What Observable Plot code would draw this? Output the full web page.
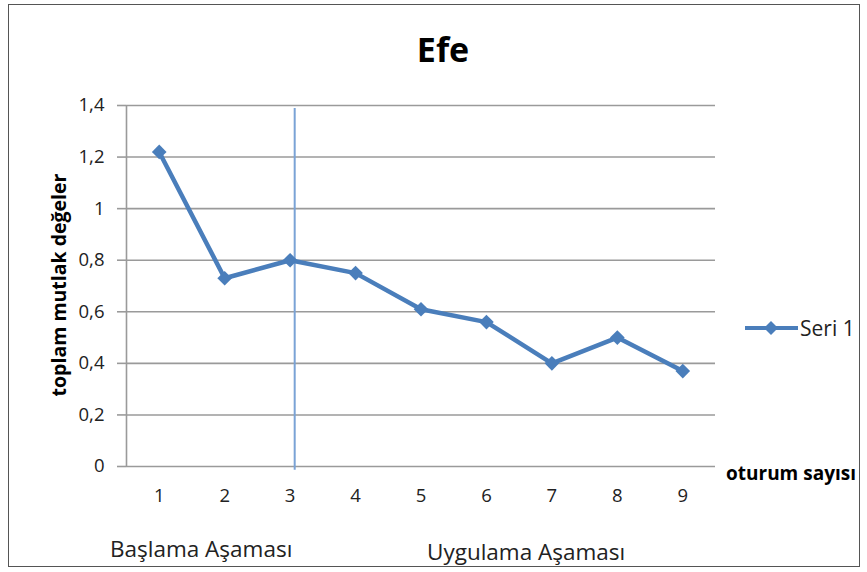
<!DOCTYPE html>
<html><head><meta charset="utf-8">
<script src="https://cdn.jsdelivr.net/npm/d3@7"></script>
<script src="https://cdn.jsdelivr.net/npm/@observablehq/plot@0.6"></script>
<style>
body{margin:0;background:#fff;font-family:"Open Sans",Lato,sans-serif;}
#wrap{position:relative;width:867px;height:572px;overflow:hidden;}
#border{position:absolute;left:8px;top:4px;width:852px;height:563px;border:1.5px solid #555;box-sizing:border-box;pointer-events:none;}
.t{position:absolute;white-space:nowrap;color:#222;}
</style></head><body>
<div id="wrap">
<div id="chart"></div>
<div id="border"></div>
<div class="t" id="title" style="left:443px;top:49px;transform:translate(-50%,-50%);font-weight:bold;font-size:34px;color:#000;">Efe</div>
<div class="t" id="ylab" style="left:58px;top:285px;transform:translate(-50%,-50%) rotate(-90deg);font-weight:bold;font-size:19.5px;color:#000;">toplam mutlak değeler</div>
<div class="t" id="xlab" style="left:726px;top:473px;transform:translate(0,-50%);font-weight:bold;font-size:19px;color:#000;">oturum sayısı</div>
<div class="t" id="p1" style="left:110px;top:548px;transform:translate(0,-50%);font-size:22.5px;">Başlama Aşaması</div>
<div class="t" id="p2" style="left:427px;top:551px;transform:translate(0,-50%);font-size:22.5px;">Uygulama Aşaması</div>
<div class="t" id="legend" style="left:744px;top:328px;transform:translate(0,-50%);font-size:21px;display:flex;align-items:center;">
<svg width="56" height="20"><line x1="1" x2="54" y1="10" y2="10" stroke="#4A7EBB" stroke-width="4"/><path d="M27,3 L34,10 L27,17 L20,10 Z" fill="#4A7EBB"/></svg><span>Seri 1</span></div>
</div>
<script>
const sessions = [1, 2, 3, 4, 5, 6, 7, 8, 9];
const values = [1.22, 0.73, 0.80, 0.75, 0.61, 0.56, 0.40, 0.50, 0.37];
const yTicks = [0, 0.2, 0.4, 0.6, 0.8, 1.0, 1.2, 1.4];
const phaseBoundary = 3.07;
const seriesName = "Seri 1";

const data = sessions.map((s, i) => ({session: s, value: values[i], series: seriesName}));
const blue = "#4A7EBB";
const grid = "#9a9a9a";

const chart = Plot.plot({
  width: 867,
  height: 572,
  marginLeft: 126,
  marginRight: 152,
  marginTop: 105,
  marginBottom: 106,
  style: {fontFamily: "'Open Sans', Lato, sans-serif", fontSize: "18px", color: "#222", background: "transparent"},
  x: {type: "linear", domain: [0.5, 9.5]},
  y: {domain: [0, 1.4]},
  marks: [
    Plot.gridY(yTicks, {stroke: grid, strokeOpacity: 1, strokeWidth: 1.6}),
    Plot.ruleX([0.5], {stroke: grid, strokeWidth: 1.6}),
    Plot.axisY(yTicks, {tickSize: 9, tickPadding: 13, stroke: grid, strokeWidth: 1.6, strokeOpacity: 1,
      tickFormat: d => String(+d.toFixed(1)).replace(".", ","), label: null, fontSize: 18.5}),
    Plot.axisX(sessions, {tickSize: 0, tickPadding: 22, tickFormat: d => String(d), label: null, fontSize: 18.5}),
    Plot.ruleX([phaseBoundary], {y1: -0.015, y2: 1.388, stroke: "#7aa3d6", strokeWidth: 2}),
    Plot.line(data, {x: "session", y: "value", stroke: blue, strokeWidth: 4.5, strokeLinejoin: "round"}),
    Plot.dot(data, {x: "session", y: "value", symbol: "diamond2", r: 6.6, fill: blue, stroke: "none"})
  ]
});
document.getElementById("chart").appendChild(chart);
</script>
</body></html>
